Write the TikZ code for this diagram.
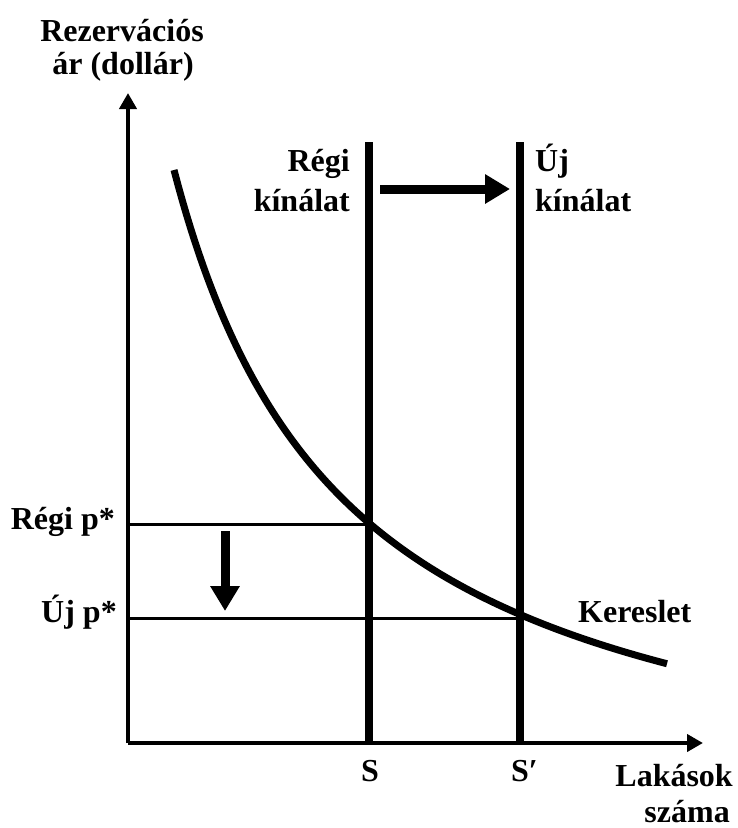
\documentclass[tikz,border=0pt]{standalone}
\usepackage{fontspec}
\setmainfont{Liberation Serif}
\usetikzlibrary{arrows.meta}
\tikzset{
  axis/.style={line width=4.5pt, -{Triangle[length=16pt,width=17pt]}},
  supply/.style={line width=8pt},
  demand/.style={line width=7pt},
  priceline/.style={line width=3pt},
  shiftarrow/.style={line width=9pt, -{Triangle[length=25pt,width=28pt]}},
  lbl/.style={inner sep=0pt, font=\fontsize{32}{38}\selectfont\bfseries}
}
\begin{document}
\begin{tikzpicture}[x=1pt,y=-1pt]
\useasboundingbox (0,0) rectangle (737,828);
% coordinates
\coordinate (O) at (128,743);
\coordinate (ytip) at (128,93);
\coordinate (xtip) at (703,743);
\coordinate (s1top) at (369,142);
\coordinate (s1bot) at (369,743);
\coordinate (s2top) at (520,142);
\coordinate (s2bot) at (520,743);
\coordinate (p1) at (369,524);
\coordinate (p2) at (520,618);
\coordinate (p1ax) at (128,524);
\coordinate (p2ax) at (128,618);
\coordinate (ra1) at (380,189);
\coordinate (ra2) at (510,189);
\coordinate (da1) at (225,531);
\coordinate (da2) at (225,611);
% price lines
\draw[priceline] (p1ax) -- (p1);
\draw[priceline] (p2ax) -- (p2);
% supply lines
\draw[supply] (s1top) -- (s1bot);
\draw[supply] (s2top) -- (s2bot);
% demand curve
\draw[demand] plot[domain=174:667, samples=120] (\x, {743-(1162.32/(\x/100)-95)});
% axes
\draw[axis] (O) -- (ytip);
\draw[axis] (O) -- (xtip);
% shift arrows
\draw[shiftarrow] (ra1) -- (ra2);
\draw[shiftarrow] (da1) -- (da2);
% labels
\node[lbl, anchor=base] (yl1) at (122,41) {Rezervációs};
\node[lbl, anchor=base] (yl2) at (123,74) {ár (dollár)};
\node[lbl, anchor=base east] (rk1) at (350,171) {Régi};
\node[lbl, anchor=base east] (rk2) at (350,211) {kínálat};
\node[lbl, anchor=base west] (uk1) at (535,171) {Új};
\node[lbl, anchor=base west] (uk2) at (535,211) {kínálat};
\node[lbl, anchor=base east] (rp) at (115,529) {Régi p*};
\node[lbl, anchor=base east] (up) at (117,622) {Új p*};
\node[lbl, anchor=base] (sl) at (370,781) {S};
\node[lbl, anchor=base west] (spl) at (511,781) {S′};
\node[lbl, anchor=base east] (xl1) at (733,786) {Lakások};
\node[lbl, anchor=base east] (xl2) at (730,822) {száma};
\node[lbl, anchor=base west] (dl) at (578,622) {Kereslet};
\end{tikzpicture}
\end{document}
